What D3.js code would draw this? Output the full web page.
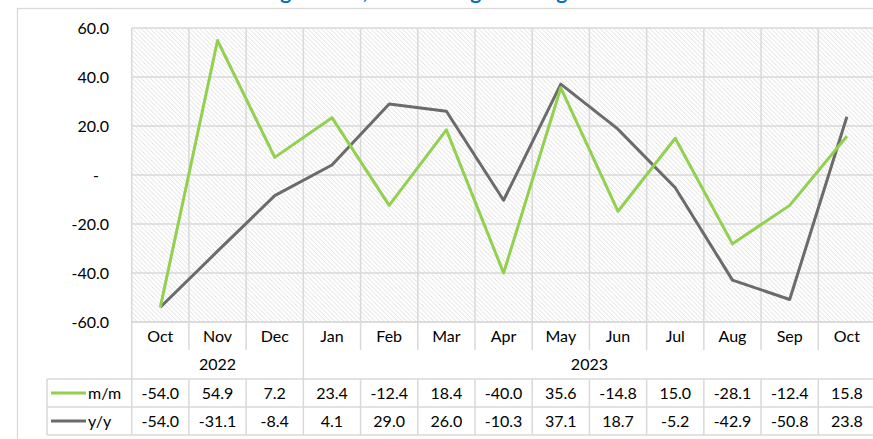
<html>
<head>
<meta charset="utf-8">
<title>m/m and y/y change</title>
<script src="https://cdn.jsdelivr.net/npm/d3@7/dist/d3.min.js"></script>
<style>
  body { margin: 0; padding: 0; background: #fff; }
  svg text { font-family: Lato, "Open Sans", sans-serif; font-size: 16px; fill: #000; }
</style>
</head>
<body>
<svg id="chart" width="873" height="439"></svg>
<script>
// data
var months = ["Oct", "Nov", "Dec", "Jan", "Feb", "Mar", "Apr", "May", "Jun", "Jul", "Aug", "Sep", "Oct"];
var years = [{label: "2022", from: 0, to: 2}, {label: "2023", from: 3, to: 12}];
var mom = [-54.0, 54.9, 7.2, 23.4, -12.4, 18.4, -40.0, 35.6, -14.8, 15.0, -28.1, -12.4, 15.8];
var yoy = [-54.0, -31.1, -8.4, 4.1, 29.0, 26.0, -10.3, 37.1, 18.7, -5.2, -42.9, -50.8, 23.8];
var yTicks = [-60, -40, -20, 0, 20, 40, 60];

var series = [
  {name: "m/m", values: mom, color: "#92d050"},
  {name: "y/y", values: yoy, color: "#6b6b6b"}
];

function fmt(d) { return d.toFixed(1); }

var svg = d3.select("#chart");
var grid = "#d9d9d9";

var plotL = 131.7, plotR = 875.5, plotT = 28, plotB = 322;
var rowMonth = 350, rowYear = 379, rowA = 407, rowB = 435;

var x = d3.scaleBand().domain(d3.range(months.length)).range([plotL, plotR]).padding(0);
var y = d3.scaleLinear().domain([-60, 60]).range([plotB, plotT]);

// hatch fill for the plot area (light downward diagonal)
var pat = svg.append("defs").append("pattern")
  .attr("id", "hatch")
  .attr("patternUnits", "userSpaceOnUse")
  .attr("width", 4.5).attr("height", 4.5);
pat.append("rect").attr("width", 4.5).attr("height", 4.5).attr("fill", "#fff");
pat.append("path")
  .attr("d", "M-1,-1 L5.5,5.5 M-1,3.5 L1,5.5 M3.5,-1 L5.5,1")
  .attr("stroke", "#dcdcdc").attr("stroke-width", 0.9);

// outer chart frame
svg.append("rect")
  .attr("x", 17.5).attr("y", 8.5)
  .attr("width", 900).attr("height", 500)
  .attr("fill", "none").attr("stroke", grid).attr("stroke-width", 1.3);

// title, mostly cut off above the window
svg.append("text")
  .attr("x", 205).attr("y", -1.5)
  .style("font-size", "21px").style("font-weight", "bold").style("fill", "#0070c0")
  .style("letter-spacing", "1.5px")
  .text("Housing Starts, Percentage Change");

svg.append("rect")
  .attr("x", plotL).attr("y", plotT)
  .attr("width", plotR - plotL).attr("height", plotB - plotT)
  .attr("fill", "url(#hatch)");

// horizontal gridlines
svg.append("g").selectAll("line").data(yTicks).join("line")
  .attr("x1", plotL).attr("x2", plotR)
  .attr("y1", function(d) { return y(d); }).attr("y2", function(d) { return y(d); })
  .attr("stroke", grid).attr("stroke-width", 1.5);

// vertical gridlines between categories
var bounds = d3.range(months.length + 1).map(function(i) { return plotL + i * x.bandwidth(); });
svg.append("g").selectAll("line").data(bounds).join("line")
  .attr("x1", function(d) { return d; }).attr("x2", function(d) { return d; })
  .attr("y1", plotT).attr("y2", plotB)
  .attr("stroke", grid).attr("stroke-width", 1.5);

// y axis labels
var yAxis = d3.axisLeft(y).tickValues(yTicks).tickSize(0).tickPadding(0)
  .tickFormat(function(d) { return d === 0 ? "-" : fmt(d); });
var ya = svg.append("g").attr("transform", "translate(109,0)").call(yAxis);
ya.select(".domain").remove();
ya.selectAll("text").style("font-family", "Lato, sans-serif").style("font-size", "16px").style("fill", "#000")
  .attr("dx", function(d) { return d === 0 ? -10 : 0; });

// data table lines
var tbl = svg.append("g").attr("stroke", grid).attr("stroke-width", 1.5);
tbl.append("line").attr("x1", plotL).attr("x2", plotR).attr("y1", plotB).attr("y2", plotB);
[rowYear, rowA, rowB].forEach(function(yy) {
  tbl.append("line").attr("x1", 47).attr("x2", plotR).attr("y1", yy).attr("y2", yy);
});
tbl.append("line").attr("x1", 47).attr("x2", 47).attr("y1", rowYear).attr("y2", rowB);
bounds.forEach(function(bx, i) {
  var isYearEdge = years.some(function(yr) { return yr.from === i; }) || i === months.length;
  if (isYearEdge) {
    tbl.append("line").attr("x1", bx).attr("x2", bx).attr("y1", plotB).attr("y2", rowB);
  } else {
    tbl.append("line").attr("x1", bx).attr("x2", bx).attr("y1", plotB).attr("y2", rowMonth);
    tbl.append("line").attr("x1", bx).attr("x2", bx).attr("y1", rowYear).attr("y2", rowB);
  }
});

// month labels
svg.append("g").selectAll("text").data(months).join("text")
  .attr("x", function(d, i) { return x(i) + x.bandwidth() / 2; })
  .attr("y", 342).attr("text-anchor", "middle")
  .text(function(d) { return d; });

// year labels
svg.append("g").selectAll("text").data(years).join("text")
  .attr("x", function(d) { return (x(d.from) + x(d.to) + x.bandwidth()) / 2; })
  .attr("y", 370).attr("text-anchor", "middle")
  .text(function(d) { return d.label; });

// series rows of the table
var rowMid = [rowYear + (rowA - rowYear) / 2, rowA + (rowB - rowA) / 2];
series.forEach(function(s, si) {
  var cy = rowMid[si];
  svg.append("line").attr("x1", 51).attr("x2", 86).attr("y1", cy).attr("y2", cy)
    .attr("stroke", s.color).attr("stroke-width", 3);
  svg.append("text").attr("x", 88).attr("y", cy + 6).text(s.name);
  svg.append("g").selectAll("text").data(s.values).join("text")
    .attr("x", function(d, i) { return x(i) + x.bandwidth() / 2; })
    .attr("y", cy + 6).attr("text-anchor", "middle")
    .text(fmt);
});

// lines
var line = d3.line()
  .x(function(d, i) { return x(i) + x.bandwidth() / 2; })
  .y(function(d) { return y(d); });

series.slice().reverse().forEach(function(s) {
  svg.append("path").datum(s.values)
    .attr("d", line)
    .attr("fill", "none")
    .attr("stroke", s.color)
    .attr("stroke-width", 3)
    .attr("stroke-linejoin", "round");
});
</script>
</body>
</html>
